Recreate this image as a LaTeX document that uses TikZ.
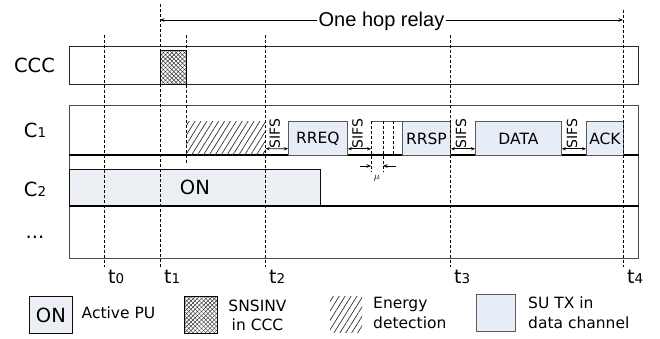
\documentclass[tikz,border=0pt]{standalone}
\usepackage{fontspec}
\setmainfont{DejaVu Sans}
\newfontfamily\arialf{Liberation Sans}
\usetikzlibrary{patterns,patterns.meta,arrows.meta}
\definecolor{sublue}{HTML}{E7EDF7}
\definecolor{boxgray}{HTML}{5A5A5A}
\definecolor{onfill}{HTML}{F1F4F9}
\tikzset{
  rowbox/.style={draw=black!85, line width=0.9pt, inner sep=0, anchor=north west},
  blu/.style={draw=boxgray, fill=sublue, line width=0.8pt, inner sep=0, anchor=north west,
    font=\fontsize{15.5}{18}\selectfont},
  onbox/.style={draw=black, line width=0.8pt, fill=onfill, inner sep=0, anchor=north west,
    postaction={pattern={Dots[distance=2pt,radius=0.35pt]}, pattern color=black!30},
    font=\fontsize{19.5}{22}\selectfont},
  xhatch/.style={draw=black, line width=0.8pt, inner sep=0, anchor=north west,
    pattern={Lines[angle=45,distance=3pt,line width=0.45pt]}, pattern color=black!85,
    postaction={pattern={Lines[angle=-45,distance=3pt,line width=0.45pt]}, pattern color=black!85}},
  edhatch/.style={inner sep=0, anchor=north west,
    pattern={Lines[angle=58,distance=5pt,line width=0.65pt]}, pattern color=black!85},
  tline/.style={dash pattern=on 3pt off 2pt, line width=0.7pt},
  thickline/.style={line width=1.5pt},
  sifsarr/.style={{Stealth[length=4pt,width=3.2pt]}-{Stealth[length=4pt,width=3.2pt]}, line width=0.6pt},
  sifslbl/.style={rotate=90, anchor=west, inner sep=0, font=\fontsize{14}{16}\selectfont},
  tip/.style={-{Stealth[length=4.5pt,width=3.5pt]}, line width=0.7pt},
  rowlbl/.style={inner sep=0, font=\fontsize{19.5}{22}\selectfont},
  tlbl/.style={inner sep=0, anchor=base west, font=\fontsize{19}{22}\selectfont},
  leg/.style={inner sep=0, font=\fontsize{15.5}{19.5}\selectfont},
}
\newcommand{\sm}[1]{{\fontsize{13.5}{15}\selectfont #1}}
\begin{document}
\begin{tikzpicture}[x=1pt,y=-1pt]
\useasboundingbox (0,0) rectangle (660,339);

% rows
\node[rowbox, minimum width=569pt, minimum height=38pt] (ccc) at (69,46) {};
\node[rowbox, draw=black!70, minimum width=569pt, minimum height=153pt] (chan) at (69,105) {};
\node[onbox, minimum width=251pt, minimum height=37pt] (on) at (69,169) {ON};
\draw[thickline] (chan.west |- 0,155) -- (chan.east |- 0,155);
\draw[thickline] (chan.west |- 0,206) -- (chan.east |- 0,206);

% row labels
\node[rowlbl] (lccc) at (34.5,65) {CCC};
\node[rowlbl] (lc1) at (35,130) {C\sm{1}};
\node[rowlbl] (lc2) at (35,189) {C\sm{2}};
\node[rowlbl, anchor=base] (ldots) at (35,238) {...};

% CCC activity
\node[xhatch, minimum width=26pt, minimum height=34pt] (sns) at (160,50) {};

% C1 activity
\node[edhatch, minimum width=79pt, minimum height=34pt] (ed) at (186,121) {};
\node[blu, minimum width=59pt, minimum height=34pt] (rreq) at (288,121) {RREQ};
\node[blu, minimum width=48pt, minimum height=34pt] (rrsp) at (402,121) {RRSP};
\node[blu, minimum width=86pt, minimum height=34pt] (data) at (475,121) {DATA};
\node[blu, minimum width=37pt, minimum height=34pt] (ack) at (586,121) {ACK};

% waiting slots
\coordinate (wl) at (371,121);
\coordinate (wa) at (383,121);
\coordinate (wb) at (393,121);
\draw[draw=boxgray, line width=0.8pt] (wl) -- (rrsp.north west);
\draw[tline, line width=1pt] (wl) -- (371,172);
\draw[tline] (wa) -- (383,172);
\draw[tline] (wb) -- (393,155);
\coordinate (mul) at (371,166);
\coordinate (mur) at (383,166);
\draw[tip, line width=0.6pt] (360,166) -- (mul);
\draw[tip, line width=0.6pt] (396,166) -- (mur);
\node[inner sep=0, font=\fontsize{10}{12}\selectfont] (mu) at (377,178) {$\mu$};

% SIFS gaps
\draw[sifsarr] ([yshift=7pt]ed.south east) -- ([yshift=7pt]rreq.south west)
  node[midway, sifslbl, yshift=2pt] (s1) {SIFS};
\draw[sifsarr] ([yshift=7pt]rreq.south east) -- ([yshift=7pt]wl |- rreq.south)
  node[midway, sifslbl, yshift=2pt] (s2) {SIFS};
\draw[sifsarr] ([yshift=7pt]rrsp.south east) -- ([yshift=7pt]data.south west)
  node[midway, sifslbl, yshift=2pt] (s3) {SIFS};
\draw[sifsarr] ([yshift=7pt]data.south east) -- ([yshift=7pt]ack.south west)
  node[midway, sifslbl, yshift=2pt] (s4) {SIFS};

% time lines
\coordinate (t0) at (104,0);
\coordinate (t1) at (160,0);
\coordinate (tm) at (186,0);
\coordinate (t2) at (265,0);
\coordinate (t3) at (450,0);
\coordinate (t4) at (623,0);
\draw[tline] (t0 |- 0,35) -- (t0 |- 0,267);
\draw[tline] (t1 |- 0,4) -- (t1 |- 0,267);
\draw[tline] (tm |- 0,35) -- (tm |- 0,165);
\draw[tline] (t2 |- 0,35) -- (t2 |- 0,267);
\draw[tline] (t3 |- 0,35) -- (t3 |- 0,267);
\draw[tline] (t4 |- 0,10) -- (t4 |- 0,267);

\node[tlbl] (lt0) at (108,283) {t\sm{0}};
\node[tlbl] (lt1) at (164,283) {t\sm{1}};
\node[tlbl] (lt2) at (269,283) {t\sm{2}};
\node[tlbl] (lt3) at (454,283) {t\sm{3}};
\node[tlbl] (lt4) at (627,283) {t\sm{4}};

% one hop relay
\coordinate (hopL) at (160,20);
\coordinate (hopR) at (623,20);
\node[anchor=base, inner sep=1.5pt, font=\arialf\fontsize{20}{22}\selectfont] (hop) at (381.5,26.5) {One hop relay};
\draw[tip] (hop.west |- hopL) -- (hopL);
\draw[tip] (hop.east |- hopR) -- (hopR);

% legend
\node[onbox, minimum width=43pt, minimum height=37pt] (lgon) at (29,296) {ON};
\node[leg, anchor=base west] (lgontx) at (81.5,318.5) {Active PU};
\node[xhatch, minimum width=33pt, minimum height=37pt] (lgsns) at (184,296) {};
\node[leg, anchor=north, align=center] (lgsnstx) at (257.5,299.5) {SNSINV\\in CCC};
\node[edhatch, minimum width=32pt, minimum height=36pt] (lged) at (330,296) {};
\node[leg, anchor=north west, align=left] (lgedtx) at (373,297) {Energy\\detection};
\node[blu, minimum width=39pt, minimum height=37pt] (lgsu) at (476,294) {};
\node[leg, anchor=north west, align=left] (lgsutx) at (528,297) {SU TX in\\data channel};
\end{tikzpicture}
\end{document}
